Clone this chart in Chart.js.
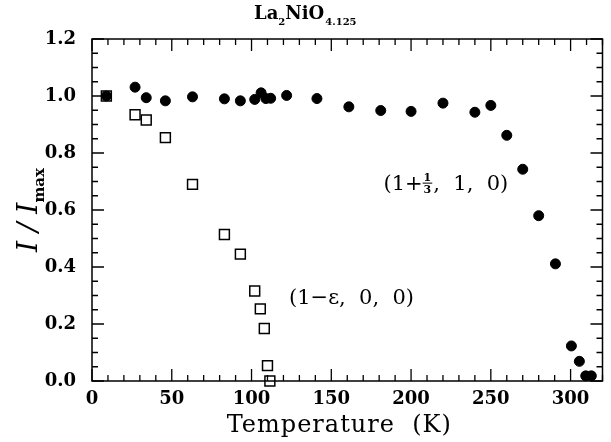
<!DOCTYPE html>
<html><head><meta charset="utf-8">
<script src="https://cdn.jsdelivr.net/npm/chart.js@4"></script>
<style>html,body{margin:0;padding:0;background:#fff}</style>
</head><body>
<canvas id="c" width="611" height="442"></canvas>
<script>
// ---- data ----
const circleT = [9, 27, 34, 46, 63, 83, 93, 102, 106, 109, 112, 122, 141, 161, 181, 200, 220, 240, 250, 260, 270, 280, 290.5, 300.5, 305.5, 309.5, 313];
const circleI = [1.0, 1.031, 0.994, 0.983, 0.997, 0.990, 0.983, 0.988, 1.011, 0.991, 0.992, 1.002, 0.991, 0.962, 0.949, 0.946, 0.975, 0.943, 0.967, 0.862, 0.743, 0.580, 0.411, 0.123, 0.069, 0.018, 0.018];
const squareT = [9, 27, 34, 46, 63, 83, 93, 102, 105.5, 108, 110, 111.5];
const squareI = [1.0, 0.934, 0.916, 0.854, 0.690, 0.514, 0.445, 0.316, 0.253, 0.184, 0.054, 0.0];
const xTickLabels = [0, 50, 100, 150, 200, 250, 300];
const yTickLabels = ['0.0', '0.2', '0.4', '0.6', '0.8', '1.0', '1.2'];
const titleText = ['La', '2', 'NiO', '4.125'];
const xTitle = 'Temperature  (K)';
const yTitle = ['I / I', 'max'];
const label1 = ['(1+', '1', '3', ',  1,  0)'];
const label2 = '(1\u2212\u03b5,  0,  0)';

const SERIF = '"DejaVu Serif", "Liberation Serif", serif';

const framePlugin = {
  id: 'frame',
  afterDraw(chart) {
    const ctx = chart.ctx, a = chart.chartArea;
    const xs = chart.scales.x, ys = chart.scales.y;
    ctx.save();
    ctx.strokeStyle = '#000';
    ctx.lineWidth = 1.5;
    ctx.strokeRect(a.left, a.top, a.right - a.left, a.bottom - a.top);
    ctx.lineWidth = 1.3;
    ctx.beginPath();
    for (let v = 0; v <= 320; v += 10) {
      const px = xs.getPixelForValue(v);
      const len = v % 50 === 0 ? 12 : 6;
      ctx.moveTo(px, a.bottom); ctx.lineTo(px, a.bottom - len);
      ctx.moveTo(px, a.top); ctx.lineTo(px, a.top + len);
    }
    for (let k = 0; k <= 24; k++) {
      const v = k * 0.05;
      const py = ys.getPixelForValue(v);
      const len = k % 4 === 0 ? 12 : 6;
      ctx.moveTo(a.left, py); ctx.lineTo(a.left + len, py);
      ctx.moveTo(a.right, py); ctx.lineTo(a.right - len, py);
    }
    ctx.stroke();

    ctx.fillStyle = '#000';
    ctx.textBaseline = 'alphabetic';
    // title
    let x = 254;
    const base = 19;
    ctx.font = 'bold 18px ' + SERIF;
    ctx.fillText(titleText[0], x, base); x += ctx.measureText(titleText[0]).width;
    ctx.font = 'bold 10px ' + SERIF;
    ctx.fillText(titleText[1], x, base + 6); x += ctx.measureText(titleText[1]).width;
    ctx.font = 'bold 18px ' + SERIF;
    ctx.fillText(titleText[2], x, base); x += ctx.measureText(titleText[2]).width + 1;
    ctx.font = 'bold 10px ' + SERIF;
    ctx.fillText(titleText[3], x, base + 6);

    // x title
    ctx.font = '24px ' + SERIF;
    ctx.letterSpacing = '1px';
    ctx.textAlign = 'center';
    ctx.fillText(xTitle, (a.left + a.right) / 2 - 8, 432);
    ctx.letterSpacing = '0px';
    ctx.textAlign = 'left';

    // y title
    ctx.save();
    ctx.translate(28, (a.top + a.bottom) / 2);
    ctx.rotate(-Math.PI / 2);
    ctx.font = 'italic 28px ' + SERIF;
    const w1 = ctx.measureText(yTitle[0]).width;
    ctx.font = 'bold 15px ' + SERIF;
    const w2 = ctx.measureText(yTitle[1]).width;
    let sx = -(w1 + w2) / 2;
    ctx.font = 'italic 28px ' + SERIF;
    ctx.fillText(yTitle[0], sx, 9);
    ctx.font = 'bold 15px ' + SERIF;
    ctx.fillText(yTitle[1], sx + w1, 16);
    ctx.restore();

    // annotation 1
    let lx = xs.getPixelForValue(182.7), ly = ys.getPixelForValue(0.696) + 7;
    ctx.font = '21px ' + SERIF;
    ctx.fillText(label1[0], lx, ly); lx += ctx.measureText(label1[0]).width + 1;
    ctx.font = 'bold 11px ' + SERIF;
    const fw = ctx.measureText(label1[1]).width;
    ctx.fillText(label1[1], lx, ly - 9);
    ctx.fillText(label1[2], lx, ly + 3);
    ctx.lineWidth = 1;
    ctx.beginPath(); ctx.moveTo(lx - 1, ly - 6.5); ctx.lineTo(lx + fw + 1, ly - 6.5); ctx.stroke();
    lx += fw + 2;
    ctx.font = '21px ' + SERIF;
    ctx.fillText(label1[3], lx, ly);

    // annotation 2
    ctx.font = '21px ' + SERIF;
    ctx.fillText(label2, xs.getPixelForValue(123.5), ys.getPixelForValue(0.295) + 7);
    ctx.restore();
  }
};

new Chart(document.getElementById('c'), {
  type: 'scatter',
  data: {
    datasets: [
      {
        label: '(1+1/3, 1, 0)',
        data: circleT.map((t, i) => ({x: t, y: circleI[i]})),
        pointStyle: 'circle', pointRadius: 5, pointHoverRadius: 5,
        backgroundColor: '#000', borderColor: '#000', borderWidth: 1, clip: false
      },
      {
        label: '(1-e, 0, 0)',
        data: squareT.map((t, i) => ({x: t, y: squareI[i]})),
        pointStyle: 'rect', pointRadius: 7, pointHoverRadius: 7,
        backgroundColor: 'rgba(0,0,0,0)', borderColor: '#000', borderWidth: 1.5, clip: false
      }
    ]
  },
  options: {
    responsive: false, animation: false, devicePixelRatio: 1,
    layout: {padding: {left: 0, right: 1, top: 39, bottom: 0}},
    plugins: {legend: {display: false}, tooltip: {enabled: false}, title: {display: false}},
    scales: {
      x: {
        type: 'linear', min: 0, max: 320, position: 'bottom',
        grid: {display: false, drawTicks: false}, border: {display: false},
        afterBuildTicks: s => { s.ticks = xTickLabels.map(v => ({value: v})); },
        afterFit: s => { s.height = 61; },
        ticks: {color: '#000', padding: 8, maxRotation: 0, font: {family: SERIF, size: 18, weight: 'bold'},
                callback: v => String(v)}
      },
      y: {
        type: 'linear', min: 0, max: 1.2, position: 'left',
        grid: {display: false, drawTicks: false}, border: {display: false},
        afterBuildTicks: s => { s.ticks = yTickLabels.map(v => ({value: parseFloat(v)})); },
        afterFit: s => { s.width = 92; },
        ticks: {color: '#000', padding: 16, font: {family: SERIF, size: 18, weight: 'bold'},
                callback: (v) => yTickLabels.find(t => Math.abs(parseFloat(t) - v) < 1e-6) || ''}
      }
    }
  },
  plugins: [framePlugin]
});
</script>
</body></html>
